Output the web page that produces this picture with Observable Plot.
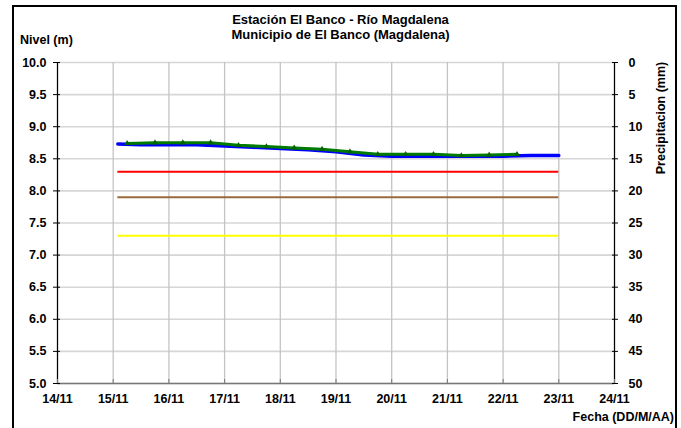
<!DOCTYPE html>
<html><head><meta charset="utf-8">
<script src="https://cdn.jsdelivr.net/npm/d3@7"></script>
<script src="https://cdn.jsdelivr.net/npm/@observablehq/plot@0.6"></script>
<style>
body{margin:0;background:#fff;font-family:"Liberation Sans",Arial,sans-serif;}
#wrap{position:relative;width:681px;height:428px;overflow:hidden;background:#fff;}
#chart{position:absolute;left:0;top:0;}
#frame{position:absolute;left:12px;top:5px;width:661px;height:440px;border:2px solid #000;pointer-events:none;}
.t{position:absolute;font-weight:bold;color:#000;white-space:nowrap;font-size:12.5px;}
</style></head><body>
<div id="wrap">
  <div id="chart"></div>
  <div id="frame"></div>
  <div class="t" style="left:0;width:681px;text-align:center;top:12px;font-size:13px;line-height:15px">Estación El Banco - Río Magdalena<br>Municipio de El Banco (Magdalena)</div>
  <div class="t" style="left:20px;top:33px;">Nivel (m)</div>
  <div class="t" style="left:661px;top:118px;transform:translate(-50%,-50%) rotate(-90deg);">Precipitacion (mm)</div>
  <div class="t" style="right:7px;top:410px;">Fecha (DD/M/AA)</div>
</div>
<script>
// Nivel observado (azul)
const blueTimes = ["2010-11-15T02:00","2010-11-15T12:00","2010-11-16T00:00","2010-11-16T12:00","2010-11-17T00:00","2010-11-17T12:00","2010-11-18T00:00","2010-11-18T12:00","2010-11-19T00:00","2010-11-19T12:00","2010-11-20T00:00","2010-11-20T12:00","2010-11-21T00:00","2010-11-21T12:00","2010-11-22T00:00","2010-11-22T12:00","2010-11-23T00:00"];
const blueValues = [8.73,8.72,8.72,8.72,8.70,8.68,8.66,8.64,8.61,8.56,8.54,8.54,8.54,8.54,8.54,8.55,8.55];
// Nivel (verde, con marcadores)
const greenTimes = ["2010-11-15T06:00","2010-11-15T18:00","2010-11-16T06:00","2010-11-16T18:00","2010-11-17T06:00","2010-11-17T18:00","2010-11-18T06:00","2010-11-18T18:00","2010-11-19T06:00","2010-11-19T18:00","2010-11-20T06:00","2010-11-20T18:00","2010-11-21T06:00","2010-11-21T18:00","2010-11-22T06:00"];
const greenValues = [8.74,8.75,8.75,8.75,8.71,8.69,8.67,8.65,8.61,8.57,8.57,8.57,8.55,8.56,8.57];
// Umbrales
const thresholdValues = [8.3, 7.9, 7.3];
const thresholdColors = ["#ff0000", "#9b6a3c", "#ffff00"];
const thresholdStart = "2010-11-15T02:00";
const thresholdEnd = "2010-11-23T00:00";
// Ejes
const xTickDates = ["2010-11-14","2010-11-15","2010-11-16","2010-11-17","2010-11-18","2010-11-19","2010-11-20","2010-11-21","2010-11-22","2010-11-23","2010-11-24"];
const yTicks = [5,5.5,6,6.5,7,7.5,8,8.5,9,9.5,10];
const precipTickLabels = [50,45,40,35,30,25,20,15,10,5,0];

const toDate = s => new Date(s.length === 10 ? s + "T00:00Z" : s + "Z");
const blue = blueTimes.map((t, i) => ({date: toDate(t), value: blueValues[i]}));
const green = greenTimes.map((t, i) => ({date: toDate(t), value: greenValues[i]}));
const thresholds = thresholdValues.map((v, i) => ({value: v, color: thresholdColors[i], x1: toDate(thresholdStart), x2: toDate(thresholdEnd)}));
const xTicks = xTickDates.map(toDate);
const fmt = d3.utcFormat("%d/%m");

const chart = Plot.plot({
  width: 681,
  height: 428,
  marginLeft: 57,
  marginRight: 67,
  marginTop: 62,
  marginBottom: 45,
  style: {fontFamily: "'Liberation Sans', Arial, sans-serif", fontSize: "12.5px", fontWeight: "bold", color: "#000", background: "transparent"},
  x: {type: "utc", domain: [xTicks[0], xTicks[xTicks.length - 1]]},
  y: {domain: [5, 10]},
  marks: [
    Plot.gridY(yTicks, {stroke: "#d6d6d6", strokeOpacity: 1, strokeWidth: 1.6}),
    Plot.gridX(xTicks, {stroke: "#c4c4c4", strokeOpacity: 1, strokeWidth: 1.3}),
    Plot.ruleY(thresholds, {y: "value", x1: "x1", x2: "x2", stroke: "color", strokeWidth: 2}),
    Plot.line(blue, {x: "date", y: "value", stroke: "#0000ff", strokeWidth: 3.5}),
    Plot.line(green, {x: "date", y: "value", stroke: "#007a00", strokeWidth: 3}),
    Plot.dot(green, {x: "date", y: "value", symbol: "triangle", r: 2.2, fill: "#006400"}),
    Plot.ruleY([5], {stroke: "#777", strokeWidth: 1.5}),
    Plot.ruleX([xTicks[0]], {stroke: "#000", strokeWidth: 1.2}),
    Plot.ruleX([xTicks[xTicks.length - 1]], {stroke: "#000", strokeWidth: 1.2}),
    Plot.axisY(yTicks, {anchor: "left", tickSize: 4, tickPadding: 7, tickFormat: d => d.toFixed(1), label: null, fontWeight: "bold"}),
    Plot.axisY(yTicks, {anchor: "left", tickSize: -3, tickFormat: () => "", label: null}),
    Plot.axisY(yTicks, {anchor: "right", tickSize: 3, tickPadding: 11, tickFormat: (d, i) => String(precipTickLabels[yTicks.indexOf(d)]), label: null, fontWeight: "bold"}),
    Plot.axisY(yTicks, {anchor: "right", tickSize: -3, tickFormat: () => "", label: null}),
    Plot.axisX(xTicks, {anchor: "bottom", tickSize: -4, tickPadding: 15, tickFormat: fmt, label: null, fontWeight: "bold", stroke: "#777"})
  ]
});
document.getElementById("chart").appendChild(chart);
</script>
</body></html>
